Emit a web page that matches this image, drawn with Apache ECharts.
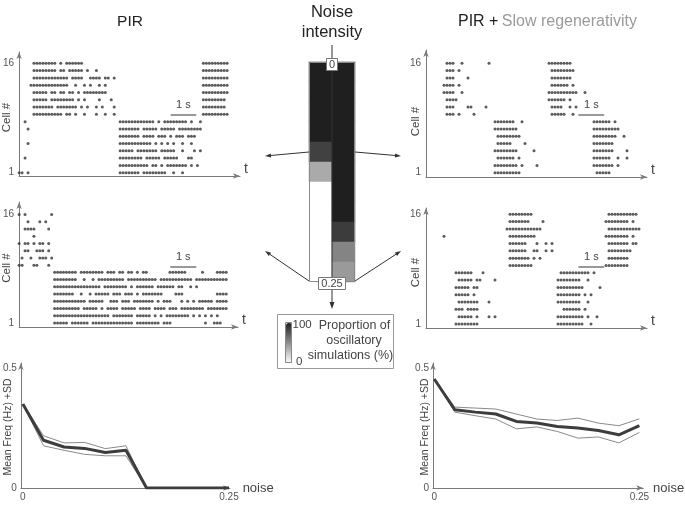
<!DOCTYPE html>
<html><head><meta charset="utf-8">
<script src="https://cdn.jsdelivr.net/npm/echarts@6/dist/echarts.min.js"></script>
<style>html,body{margin:0;padding:0;background:#fff}#c{width:685px;height:508px}</style>
</head><body><div id="c"></div>
<script>
// ---------- DATA ----------
// Spike rasters: one string per cell (cell 1 first). Each entry is a time bin (1 bin = 1/8.6 s);
// "a-b" lists consecutive spiking bins a..b.
const rasterPIRLowNoise = [
  "0,1,3,34-40,42-49,52,55",
  "34-43,45-46,48,50-56,58,60",
  "2,34-41,43-47,49-53,57-58",
  "34-38,40-46,48-52,55,59,61",
  "3,34-44,46,48,50,52,55,58",
  "34-40,42-45,47-49,51,53-55,57-59",
  "3,34-40,42-46,48-52,54-61",
  "2,34-45,47,49-56,58,61",
  "5-14,16-17,19,22,26,29,32,62-70",
  "5-11,13-19,21,23,26,28,32,62-69",
  "5-9,11-18,20,22,27,31,62-69",
  "5-9,11-12,14-15,17-18,20,22-29,62-70",
  "4-16,19,22,24,27,29,62-70",
  "5-16,18-21,24-27,29-30,32,62-70",
  "5-12,14-15,17-21,23,26,62-70",
  "5-12,14,16-21,62-70"
];
const rasterPIRHighNoise = [
  "12-16,18-23,25-38,40-47,49-51,63,66-68",
  "12-30,32-38,40-44,46,48,50-57,59,61,63,65,67",
  "12-20,22-26,28,30-33,35-39,41-44,46-49,51-53,55-62,64-70",
  "12-22,24-28,31-33,35-37,39-45,47,49-51,55,57,59,61-65,67-70",
  "12-18,21,24,26-30,32-34,36-38,40,42-48,53-55,67-70",
  "12-27,29-36,38,40-45,47-52,54-55,58,60",
  "12-19,22,25,27-35,37-46,48-58,60-70",
  "12-19,21-28,30-32,34-35,37-38,40,42-43,51-56,62,67-70",
  "0,1,5,6,10",
  "1,4,7,8,9,11",
  "2,3,6,7,8,10",
  "0,2,3,5,7,8,10",
  "5",
  "2-5,10",
  "3,7,9",
  "0,2,11"
];
const rasterSRLowNoise = [
  "23-31,57-61",
  "23-30,32,37,56-62,64",
  "24-29,31,56-61,64,67",
  "23-30,36,56-62,67",
  "24-28,33,56-62",
  "24-31,56-63,66",
  "23-30,56-64",
  "23-29,32,56-61,63",
  "7-9,11,16,42-46,49",
  "7-9,14,15,20,42-45,48,50",
  "7-10,41-46,48",
  "6-9,12,41-50,53",
  "6-9,11,42-47,49",
  "7-9,14,42-48",
  "7-9,11,42-49",
  "7-9,12,21,41-48"
];
const rasterSRHighNoise = [
  "10-17,44-52,55",
  "11-15,17,21,23,44-52,54,57",
  "10-12,14-17,46-51,53",
  "11-17,21,44-51,54",
  "10-14,16,44-51,53,55",
  "10-14,16,17,44-52,58",
  "11-15,17,18,23,44-51,54",
  "10-15,19,45-54,56",
  "28-35,60-67",
  "28-34,36,38,61-67",
  "28-33,36-37,40,42,61-68",
  "28-33,37,40,42,61-67,69,70",
  "6,28-36,60-67,69",
  "27-38,61-71",
  "28-34,39,60-67,69",
  "28-35,61-70"
];
// 1 s scale bars: [startBin, endBin, cell level]
const scaleBarStart = [51, 51.1, 50.8, 50.8];
const scaleBarEnd   = [59.6, 59.9, 59.4, 59.4];
const scaleBarCell  = [9.0, 8.82, 9.0, 8.84];
const cellTicks = [1, 16];

// Noise levels and frequency curves
const noiseLevels = [0, 0.025, 0.05, 0.075, 0.1, 0.125, 0.15, 0.175, 0.2, 0.225, 0.25];
const pirMean  = [0.352, 0.200, 0.172, 0.166, 0.149, 0.158, 0, 0, 0, 0, 0];
const pirUpper = [0.352, 0.219, 0.189, 0.191, 0.165, 0.177, 0, 0, 0, 0, 0];
const pirLower = [0.352, 0.177, 0.158, 0.141, 0.135, 0.135, 0, 0, 0, 0, 0];
const srMean  = [0.457, 0.328, 0.318, 0.310, 0.279, 0.272, 0.258, 0.251, 0.241, 0.223, 0.261];
const srUpper = [0.457, 0.339, 0.335, 0.331, 0.310, 0.289, 0.283, 0.293, 0.272, 0.261, 0.290];
const srLower = [0.457, 0.318, 0.303, 0.289, 0.248, 0.256, 0.237, 0.209, 0.214, 0.189, 0.233];
const freqTicks = [0, 0.5];
const noiseTicks = [0, 0.25];

// Proportion of oscillatory simulations (%) per noise level
const models = ['PIR', 'PIR + Slow regenerativity'];
const pirOscillatory = [100, 100, 100, 100, 85, 38, 0, 0, 0, 0, 0];
const srOscillatory  = [100, 100, 100, 100, 100, 100, 100, 100, 87, 55, 45];

// ---------- BUILD ----------
function parseRow(s) {
  const out = [];
  s.split(',').forEach(p => {
    const parts = p.split('-').map(Number);
    const a = parts[0], b = parts.length > 1 ? parts[1] : parts[0];
    for (let t = a; t <= b; t++) out.push(t);
  });
  return out;
}
function rasterData(rows) {
  const d = [];
  rows.forEach((s, i) => parseRow(s).forEach(t => d.push([t, i + 1])));
  return d;
}
const FONT = 'Liberation Sans, Arial, Helvetica, sans-serif';
const AX = '#7a7a7a';
const TXT = '#444';

const rasterGrids = [
  {left: 17, top: 52, width: 223, height: 124, xmax: 223 / 3, ymin: 0.547, ymax: 17.55},
  {left: 16, top: 202, width: 222, height: 125, xmax: 222 / 3, ymin: 0.447, ymax: 17.728},
  {left: 426, top: 50, width: 221, height: 127, xmax: 221 / 3, ymin: 0.41, ymax: 17.824},
  {left: 426, top: 208, width: 221, height: 120, xmax: 221 / 3, ymin: 0.453, ymax: 16.861}
];
const rasters = [rasterPIRLowNoise, rasterPIRHighNoise, rasterSRLowNoise, rasterSRHighNoise];

const grids = [], xAxes = [], yAxes = [], series = [];
const axisLineArrow = {show: true, onZero: false, lineStyle: {color: AX, width: 1}, symbol: ['none', 'arrow'], symbolSize: [4, 7]};

rasterGrids.forEach((g, k) => {
  grids.push({left: g.left, top: g.top, width: g.width, height: g.height, containLabel: false});
  xAxes.push({gridIndex: k, type: 'value', min: 0, max: g.xmax, axisLine: axisLineArrow,
    axisTick: {show: false}, axisLabel: {show: false}, splitLine: {show: false},
    name: 't', nameLocation: 'end', nameGap: 4,
    nameTextStyle: {fontSize: 14, color: TXT, fontFamily: FONT, verticalAlign: 'bottom', lineHeight: 14}});
  yAxes.push({gridIndex: k, type: 'value', min: g.ymin, max: g.ymax, axisLine: axisLineArrow,
    axisTick: {show: false}, splitLine: {show: false},
    axisLabel: {customValues: cellTicks, fontSize: 10, color: '#555', margin: 5, fontFamily: FONT}});
  series.push({type: 'scatter', xAxisIndex: k, yAxisIndex: k, data: rasterData(rasters[k]),
    symbolSize: 3, itemStyle: {color: '#333'}, silent: true, animation: false,
    markLine: {silent: true, symbol: ['none', 'none'], animation: false,
      lineStyle: {color: '#777', width: 1.5, type: 'solid'},
      label: {show: true, position: 'insideMiddleTop', distance: 4, formatter: '1 s', color: TXT, fontSize: 11, fontFamily: FONT},
      data: [[{coord: [scaleBarStart[k], scaleBarCell[k]]}, {coord: [scaleBarEnd[k], scaleBarCell[k]]}]]}});
});

// frequency plots
const freqGrids = [
  {left: 17, top: 363, width: 213, height: 125, xmin: -0.00238, xmax: 0.2512},
  {left: 433, top: 363, width: 216, height: 125, xmin: -0.00154, xmax: 0.2547}
];
const freqSets = [[pirMean, pirUpper, pirLower], [srMean, srUpper, srLower]];
freqGrids.forEach((g, j) => {
  const k = 4 + j;
  grids.push({left: g.left, top: g.top, width: g.width, height: g.height});
  xAxes.push({gridIndex: k, type: 'value', min: g.xmin, max: g.xmax, axisLine: axisLineArrow,
    axisTick: {show: false}, splitLine: {show: false},
    axisLabel: {customValues: noiseTicks, fontSize: 10, color: '#555', margin: 4, fontFamily: FONT,
      formatter: v => (v === 0 ? '0' : String(v))},
    name: 'noise', nameLocation: 'end', nameGap: j === 0 ? 8 : 6,
    nameTextStyle: {fontSize: 13, color: TXT, fontFamily: FONT}});
  yAxes.push({gridIndex: k, type: 'value', min: 0, max: 0.5239, axisLine: axisLineArrow,
    axisTick: {show: false}, splitLine: {show: false},
    axisLabel: {customValues: freqTicks, fontSize: 10, color: '#555', margin: 4, fontFamily: FONT}});
  const [m, u, l] = freqSets[j];
  [u, l].forEach(arr => series.push({type: 'line', xAxisIndex: k, yAxisIndex: k,
    data: noiseLevels.map((x, i) => [x, arr[i]]), symbol: 'none', silent: true, animation: false,
    lineStyle: {color: '#8a8a8a', width: 1}}));
  series.push({type: 'line', xAxisIndex: k, yAxisIndex: k,
    data: noiseLevels.map((x, i) => [x, m[i]]), symbol: 'none', silent: true, animation: false,
    lineStyle: {color: '#3d3d3d', width: 3}});
});

// heatmap column
grids.push({left: 309, top: 62, width: 46, height: 220});
xAxes.push({gridIndex: 6, type: 'category', data: models, show: false});
yAxes.push({gridIndex: 6, type: 'category', data: noiseLevels.map(String), inverse: true, show: false});
const heatData = [];
noiseLevels.forEach((n, i) => { heatData.push([0, i, pirOscillatory[i]]); heatData.push([1, i, srOscillatory[i]]); });
const heatIndex = series.length;
series.push({type: 'heatmap', xAxisIndex: 6, yAxisIndex: 6, data: heatData, silent: true, animation: false,
  itemStyle: {borderWidth: 0}});

// ---------- ANNOTATIONS ----------
function arrow(x1, y1, x2, y2, len, wid, color) {
  const a = Math.atan2(y2 - y1, x2 - x1);
  const bx = x2 - len * Math.cos(a), by = y2 - len * Math.sin(a);
  const px = -Math.sin(a) * wid / 2, py = Math.cos(a) * wid / 2;
  return [
    {type: 'line', z: 50, shape: {x1: x1, y1: y1, x2: bx, y2: by}, style: {stroke: color, lineWidth: 1}},
    {type: 'polygon', z: 50, shape: {points: [[x2, y2], [bx + px, by + py], [bx - px, by - py]]}, style: {fill: color}}
  ];
}
function txt(x, y, s, size, opts) {
  return Object.assign({type: 'text', x: x, y: y, z: 60, silent: true,
    style: Object.assign({text: s, font: size + 'px ' + FONT, fill: TXT, align: 'center', verticalAlign: 'middle'}, (opts && opts.style) || {})},
    (opts && opts.el) || {});
}
const R90 = Math.PI / 2;
const els = [];
// titles
els.push(txt(130, 22, 'PIR', 15.5, {style: {fill: '#222'}}));
els.push(txt(332, 12, 'Noise', 16.5, {style: {fill: '#222'}}));
els.push(txt(332, 32, 'intensity', 16.5, {style: {fill: '#222'}}));
els.push({type: 'text', x: 458, y: 22, z: 60, silent: true, style: {
  text: '{a|PIR +} {b|Slow regenerativity}', align: 'left', verticalAlign: 'middle',
  rich: {a: {fill: '#222', font: '16px ' + FONT}, b: {fill: '#9a9a9a', font: '16px ' + FONT}}}});
// axis titles
[[7, 117.5], [7, 268], [415.5, 121.5], [415.5, 272.5]].forEach(p =>
  els.push(txt(p[0], p[1], 'Cell #', 11.5, {el: {rotation: R90}})));
[[8, 427], [425, 427]].forEach(p =>
  els.push(txt(p[0], p[1], 'Mean Freq (Hz) +SD', 10.5, {el: {rotation: R90}})));
// heat column border and centre line
els.push({type: 'rect', z: 40, silent: true, shape: {x: 309.5, y: 62.5, width: 45, height: 219}, style: {fill: 'none', stroke: '#8a8a8a', lineWidth: 1}});
els.push(...arrow(332, 45, 332, 309, 7, 5, '#333'));
// "0" and "0.25" boxes
els.push({type: 'rect', z: 55, silent: true, shape: {x: 326.5, y: 58.5, width: 11, height: 12}, style: {fill: '#fff', stroke: '#777', lineWidth: 1}});
els.push(txt(332, 65, '0', 11));
els.push({type: 'rect', z: 55, silent: true, shape: {x: 318.5, y: 277.5, width: 27, height: 12}, style: {fill: '#fff', stroke: '#777', lineWidth: 1}});
els.push(txt(332, 283.5, '0.25', 11));
// pointer arrows
els.push(...arrow(309, 152, 265, 156, 6, 4, '#333'));
els.push(...arrow(355, 152, 401, 156, 6, 4, '#333'));
els.push(...arrow(309, 281, 265, 251, 6, 4, '#333'));
els.push(...arrow(355, 281, 401, 251, 6, 4, '#333'));
// legend box
els.push({type: 'rect', z: 1, silent: true, shape: {x: 277.5, y: 314.5, width: 116, height: 54}, style: {fill: '#fff', stroke: '#999', lineWidth: 1}});
els.push({type: 'rect', z: 55, silent: true, shape: {x: 285.5, y: 322.5, width: 6, height: 40}, style: {fill: 'none', stroke: '#888', lineWidth: 1}});
els.push(txt(292.5, 325, '100', 11.5, {style: {align: 'left'}}));
els.push(txt(296, 362, '0', 11.5, {style: {align: 'left'}}));
els.push(txt(354.5, 325.5, 'Proportion of', 12.5));
els.push(txt(354, 341, 'oscillatory', 12.5));
els.push(txt(350.5, 355.5, 'simulations (%)', 12.5));

const chart = echarts.init(document.getElementById('c'), null, {renderer: 'canvas'});
chart.setOption({
  animation: false,
  backgroundColor: '#fff',
  textStyle: {fontFamily: FONT},
  grid: grids,
  xAxis: xAxes,
  yAxis: yAxes,
  visualMap: [{type: 'continuous', seriesIndex: heatIndex, min: 0, max: 100, show: true,
    orient: 'vertical', left: 286, top: 323, itemWidth: 6, itemHeight: 40, padding: 0,
    calculable: false, hoverLink: false, text: null, showLabel: false, z: 20,
    inRange: {color: ['#ffffff', '#1f1f1f']}}],
  graphic: {elements: els},
  series: series
});
</script></body></html>
